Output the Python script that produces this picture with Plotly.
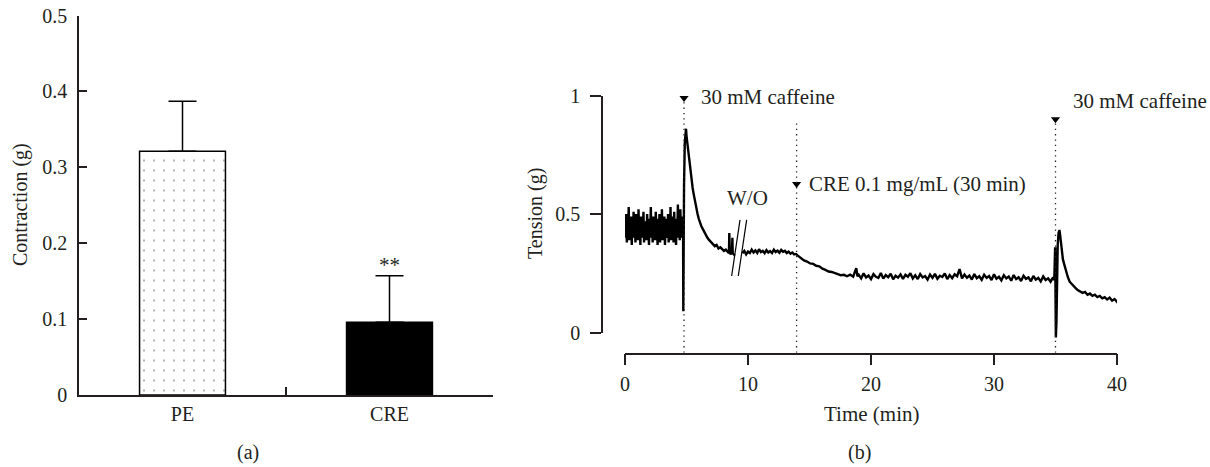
import plotly.graph_objects as go

W, H = 1210, 467


def px_x(p):
    return p / W


def px_y(p):
    return 1 - p / H


FONT = "Liberation Serif"
INK = "#231f20"

# ---------------- Panel (a) data ----------------
groups = ["PE", "CRE"]
contraction = [0.321, 0.096]
contraction_sem = [0.066, 0.061]
bar_colors = ["white", "black"]
bar_patterns = [".", ""]
left_yticks = [0, 0.1, 0.2, 0.3, 0.4, 0.5]
left_yticklabels = ["0", "0.1", "0.2", "0.3", "0.4", "0.5"]

# ---------------- Panel (b) data ----------------
baseline_t = [0.00, 0.05, 0.10, 0.15, 0.20, 0.25, 0.30, 0.35, 0.40, 0.45,
              0.50, 0.55, 0.60, 0.65, 0.70, 0.75, 0.80, 0.85, 0.90, 0.95,
              1.00, 1.05, 1.10, 1.15, 1.20, 1.25, 1.30, 1.35, 1.40, 1.45,
              1.50, 1.55, 1.60, 1.65, 1.70, 1.75, 1.80, 1.85, 1.90, 1.95,
              2.00, 2.05, 2.10, 2.15, 2.20, 2.25, 2.30, 2.35, 2.40, 2.45,
              2.50, 2.55, 2.60, 2.65, 2.70, 2.75, 2.80, 2.85, 2.90, 2.95,
              3.00, 3.05, 3.10, 3.15, 3.20, 3.25, 3.30, 3.35, 3.40, 3.45,
              3.50, 3.55, 3.60, 3.65, 3.70, 3.75, 3.80, 3.85, 3.90, 3.95,
              4.00, 4.05, 4.10, 4.15, 4.20, 4.25, 4.30, 4.35, 4.40, 4.45,
              4.50, 4.55, 4.60, 4.65, 4.70]
baseline_v = [0.46, 0.40, 0.50, 0.38, 0.47, 0.42, 0.53, 0.39, 0.45, 0.41,
              0.49, 0.37, 0.48, 0.43, 0.51, 0.40, 0.46, 0.38, 0.50, 0.42,
              0.47, 0.39, 0.52, 0.41, 0.45, 0.37, 0.49, 0.43, 0.48, 0.40,
              0.51, 0.38, 0.46, 0.42, 0.47, 0.39, 0.50, 0.41, 0.44, 0.37,
              0.48, 0.42, 0.53, 0.40, 0.46, 0.38, 0.49, 0.41, 0.47, 0.39,
              0.51, 0.43, 0.45, 0.37, 0.48, 0.40, 0.50, 0.38, 0.46, 0.42,
              0.52, 0.39, 0.47, 0.41, 0.49, 0.37, 0.45, 0.40, 0.48, 0.42,
              0.50, 0.38, 0.46, 0.41, 0.53, 0.39, 0.47, 0.43, 0.49, 0.38,
              0.51, 0.40, 0.46, 0.37, 0.48, 0.42, 0.54, 0.40, 0.47, 0.39,
              0.52, 0.41, 0.49, 0.40, 0.47]

caffeine1_t = [4.72, 4.74, 4.76, 4.80, 4.86, 4.92, 4.96, 5.00, 5.06, 5.12,
               5.20, 5.30, 5.40, 5.50, 5.60, 5.70, 5.80, 5.90, 6.00, 6.10,
               6.20, 6.30, 6.40, 6.55, 6.70, 6.85, 7.00, 7.15, 7.30, 7.45,
               7.60, 7.75, 7.90, 8.05, 8.20, 8.35, 8.45, 8.48, 8.52, 8.60,
               8.70, 8.73, 8.76, 8.85, 8.92]
caffeine1_v = [0.45, 0.09, 0.42, 0.62, 0.80, 0.85, 0.86, 0.83, 0.80, 0.77,
               0.73, 0.69, 0.65, 0.61, 0.58, 0.55, 0.52, 0.50, 0.48, 0.46,
               0.45, 0.44, 0.43, 0.41, 0.40, 0.39, 0.38, 0.375, 0.365, 0.37,
               0.355, 0.36, 0.35, 0.345, 0.35, 0.34, 0.335, 0.42, 0.34, 0.33,
               0.345, 0.40, 0.335, 0.33, 0.325]

washout_t = [9.55, 9.70, 9.85, 10.00, 10.15, 10.30, 10.45, 10.60, 10.75, 10.90,
             11.05, 11.20, 11.35, 11.50, 11.65, 11.80, 11.95, 12.10, 12.25, 12.40,
             12.55, 12.70, 12.85, 13.00, 13.15, 13.30, 13.45, 13.60, 13.75, 13.90]
washout_v = [0.335, 0.345, 0.330, 0.342, 0.336, 0.350, 0.338, 0.347, 0.336, 0.352,
             0.340, 0.345, 0.335, 0.348, 0.338, 0.344, 0.336, 0.350, 0.340, 0.346,
             0.337, 0.349, 0.341, 0.345, 0.336, 0.342, 0.333, 0.338, 0.330, 0.332]

cre_t = [14.05, 14.30, 14.55, 14.80, 15.05, 15.30, 15.55, 15.80, 16.05, 16.30,
         16.55, 16.80, 17.05, 17.30, 17.55, 17.80, 18.05, 18.30, 18.55, 18.80,
         18.90,
         19.0, 19.2, 19.4, 19.6, 19.8, 20.0, 20.2, 20.4, 20.6, 20.8,
         21.0, 21.2, 21.4, 21.6, 21.8, 22.0, 22.2, 22.4, 22.6, 22.8,
         23.0, 23.2, 23.4, 23.6, 23.8, 24.0, 24.2, 24.4, 24.6, 24.8,
         25.0, 25.2, 25.4, 25.6, 25.8, 26.0, 26.2, 26.4, 26.6, 26.8,
         27.0, 27.2, 27.4, 27.6, 27.8, 28.0, 28.2, 28.4, 28.6, 28.8,
         29.0, 29.2, 29.4, 29.6, 29.8, 30.0, 30.2, 30.4, 30.6, 30.8,
         31.0, 31.2, 31.4, 31.6, 31.8, 32.0, 32.2, 32.4, 32.6, 32.8,
         33.0, 33.2, 33.4, 33.6, 33.8, 34.0, 34.2, 34.4, 34.6, 34.8]
cre_v = [0.325, 0.315, 0.305, 0.300, 0.292, 0.290, 0.282, 0.280, 0.270, 0.265,
         0.258, 0.256, 0.250, 0.247, 0.242, 0.244, 0.238, 0.245, 0.236, 0.272,
         0.238,
         0.244, 0.229, 0.250, 0.233, 0.241, 0.226, 0.247, 0.236, 0.231, 0.252,
         0.228, 0.243, 0.234, 0.249, 0.225, 0.240, 0.232, 0.246, 0.227, 0.244,
         0.236, 0.251, 0.229, 0.242, 0.226, 0.247, 0.233, 0.239, 0.224, 0.245,
         0.231, 0.248, 0.227, 0.240, 0.235, 0.250, 0.226, 0.243, 0.230, 0.246,
         0.238, 0.268, 0.229, 0.245, 0.232, 0.241, 0.224, 0.247, 0.230, 0.238,
         0.223, 0.244, 0.231, 0.239, 0.222, 0.246, 0.228, 0.236, 0.221, 0.242,
         0.229, 0.237, 0.219, 0.243, 0.226, 0.234, 0.218, 0.240, 0.227, 0.233,
         0.217, 0.239, 0.224, 0.231, 0.216, 0.237, 0.222, 0.229, 0.215, 0.233]

caffeine2_t = [34.90, 34.97, 35.00, 35.03, 35.08, 35.12, 35.18, 35.25, 35.32, 35.38,
               35.45, 35.52, 35.60, 35.70, 35.80, 35.90, 36.00, 36.15, 36.30, 36.45,
               36.60, 36.80, 37.00, 37.20, 37.40, 37.60, 37.80, 38.00, 38.20, 38.40,
               38.60, 38.80, 39.00, 39.20, 39.40, 39.60, 39.80, 40.00, 40.10]
caffeine2_v = [0.222, 0.36, 0.20, -0.02, 0.05, 0.25, 0.37, 0.42, 0.433, 0.41,
               0.37, 0.33, 0.31, 0.29, 0.27, 0.25, 0.235, 0.215, 0.205, 0.195,
               0.19, 0.18, 0.175, 0.168, 0.172, 0.16, 0.165, 0.155, 0.16, 0.15,
               0.155, 0.145, 0.15, 0.14, 0.148, 0.135, 0.142, 0.13, 0.138]

time_ticks = [0, 10, 20, 30, 40]
tension_ticks = [0, 0.5, 1]
tension_ticklabels = ["0", "0.5", "1"]

event_times = [4.8, 13.95, 35.0]
event_marker_y = [0.989, 0.627, 0.90]
event_line_top = [0.975, 0.884, 0.89]
event_labels = ["30 mM caffeine", "CRE 0.1 mg/mL (30 min)", "30 mM caffeine"]
event_label_x = [6.0, 14.8, 36.25]
event_label_y = [0.995, 0.627, 0.975]

# Assemble the trace (gap at the wash-out break)
time_all = baseline_t + caffeine1_t + [None] + washout_t + cre_t + caffeine2_t
tension_all = baseline_v + caffeine1_v + [None] + washout_v + cre_v + caffeine2_v

# pixel geometry of panel (b)
Y0_PX, Y1_PX = 332.7, 95.5          # pixel rows for tension 0 and 1
XAX_PX, TOP_PX = 352.7, 60.0        # x-axis line row and top of data area
per_px = 1.0 / (Y0_PX - Y1_PX)
y2_lo = -(XAX_PX - Y0_PX) * per_px
y2_hi = (Y0_PX - TOP_PX) * per_px

fig = go.Figure()

fig.add_trace(go.Bar(
    x=[0, 1], y=contraction, width=0.415,
    marker=dict(color=bar_colors, line=dict(color="black", width=1.5),
                pattern=dict(shape=bar_patterns, fgcolor="#000000", size=10,
                             solidity=0.035, fillmode="overlay")),
    error_y=dict(type="data", array=contraction_sem, arrayminus=[0, 0],
                 symmetric=False, color="black", thickness=1.5, width=14),
    xaxis="x", yaxis="y", hoverinfo="skip"))

fig.add_trace(go.Scatter(
    x=time_all, y=tension_all, mode="lines", connectgaps=False,
    line=dict(color="black", width=2.4), xaxis="x2", yaxis="y2", hoverinfo="skip"))

fig.add_trace(go.Scatter(
    x=event_times, y=event_marker_y, mode="markers", cliponaxis=False,
    marker=dict(symbol="triangle-down", size=8, color="black"),
    xaxis="x2", yaxis="y2", hoverinfo="skip"))

fig.add_trace(go.Scatter(x=[None], y=[None], xaxis="x3", yaxis="y3",
                         mode="lines", hoverinfo="skip"))

axis_common = dict(showgrid=False, zeroline=False, linecolor=INK, linewidth=1.5,
                   tickcolor=INK, tickwidth=1.5, automargin=False,
                   tickfont=dict(family=FONT, size=20, color=INK))

fig.update_layout(
    template="none",
    width=W, height=H, margin=dict(l=0, r=0, t=0, b=0, pad=0),
    paper_bgcolor="white", plot_bgcolor="rgba(0,0,0,0)", showlegend=False,
    font=dict(family=FONT, size=20, color=INK),
    xaxis=dict(domain=[px_x(79), px_x(493)], range=[-0.5, 1.5], anchor="y",
               showline=True, tickmode="array", tickvals=[0, 1], ticktext=groups,
               ticks="", ticklabelstandoff=0,
               minor=dict(tickmode="array", tickvals=[0.5], ticks="inside",
                          ticklen=8, tickwidth=1.5, tickcolor=INK, showgrid=False),
               **axis_common),
    yaxis=dict(domain=[px_y(395), px_y(15.5)], range=[0, 0.5], anchor="x",
               showline=True, tickmode="array", tickvals=left_yticks,
               ticktext=left_yticklabels, ticks="inside", ticklen=8,
               ticklabelstandoff=6, **axis_common),
    xaxis2=dict(domain=[px_x(625), px_x(1117)], range=[0, 40], anchor="y2",
                showline=True, tickmode="array", tickvals=time_ticks,
                ticks="outside", ticklen=11, ticklabelstandoff=2, **axis_common),
    yaxis2=dict(domain=[px_y(XAX_PX), px_y(TOP_PX)], range=[y2_lo, y2_hi],
                anchor="x2", visible=False, automargin=False),
    xaxis3=dict(domain=[px_x(625), px_x(1117)], range=[0, 40], anchor="y3",
                visible=False, automargin=False),
    yaxis3=dict(domain=[px_y(Y0_PX), px_y(Y1_PX)], range=[0, 1], anchor="free",
                position=px_x(602), showline=True, tickmode="array",
                tickvals=tension_ticks, ticktext=tension_ticklabels,
                ticks="outside", ticklen=11, ticklabelstandoff=6, **axis_common),
)

shapes = []
for t, top in zip(event_times, event_line_top):
    shapes.append(dict(type="line", xref="x2", yref="y2", x0=t, x1=t,
                       y0=y2_lo, y1=top,
                       line=dict(color=INK, width=1.3, dash="1.3px,4px")))
# wash-out break marks "//"
for xa, xb in [(8.67, 9.35), (9.21, 9.89)]:
    shapes.append(dict(type="line", xref="x2", yref="y2", x0=xa, x1=xb,
                       y0=0.239, y1=0.476, line=dict(color="black", width=1.2)))
fig.update_layout(shapes=shapes)


def label(text, x, y, xref="paper", yref="paper", size=20, angle=0,
          xanchor="center", yanchor="middle"):
    return dict(text=text, x=x, y=y, xref=xref, yref=yref, xanchor=xanchor,
                yanchor=yanchor, textangle=angle, showarrow=False,
                font=dict(family=FONT, size=size, color=INK))


ann = []
for txt, x, y in zip(event_labels, event_label_x, event_label_y):
    ann.append(label(txt, x, y, "x2", "y2", 21, xanchor="left"))
ann.append(label("W/O", 10.0, 0.568, "x2", "y2", 21))
ann.append(label("**", 1, contraction[1] + contraction_sem[1] - 0.004, "x", "y",
                 21, yanchor="bottom"))
ann.append(label("Contraction (g)", px_x(20), px_y(205), angle=-90))
ann.append(label("Tension (g)", px_x(535), px_y(214), angle=-90))
ann.append(label("Time (min)", px_x(871), px_y(414), size=21))
ann.append(label("(a)", px_x(248), px_y(452)))
ann.append(label("(b)", px_x(859), px_y(452)))
fig.update_layout(annotations=ann)

fig.write_html("out.html")
